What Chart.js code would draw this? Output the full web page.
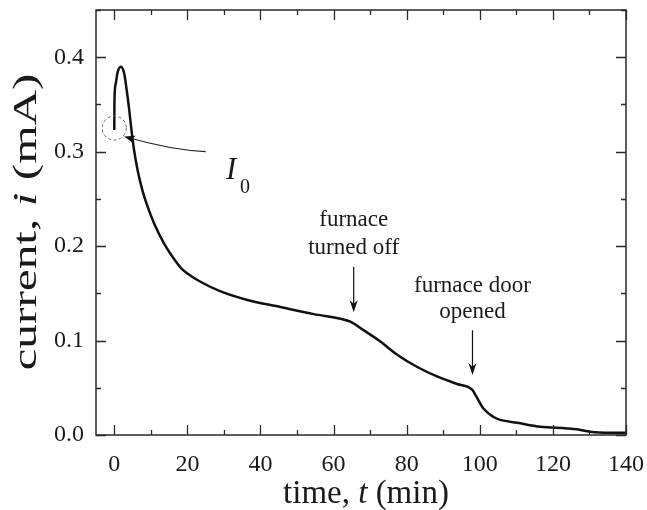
<!DOCTYPE html>
<html>
<head>
<meta charset="utf-8">
<script src="https://cdn.jsdelivr.net/npm/chart.js@4/dist/chart.umd.min.js"></script>
<style>
  body { margin: 0; background: #fff; }
  canvas { display: block; }
</style>
</head>
<body>
<canvas id="myChart" width="647" height="510"></canvas>
<script>
// time in minutes and current in mA
const times = [0, 0.05, 0.4, 0.9, 1.8, 2.7, 3.4, 4.1, 4.7, 5.4, 6.4, 7.7, 9.1, 10.9, 13.6, 16.4, 18.2, 20,
    23.7, 29.1, 36.4, 45.5, 54.6, 62, 64.6, 68.2, 72.8, 77.4, 82.9, 88.3, 93.8, 97.9,
    99.3, 101, 103.8, 105.6, 110.2, 116.6, 123.9, 126.6, 130.2, 135.7, 140];
const currents = [0.323, 0.354, 0.372, 0.384, 0.390, 0.383, 0.365, 0.344, 0.323, 0.302, 0.280, 0.259, 0.242, 0.224, 0.203, 0.186, 0.177, 0.171,
    0.162, 0.152, 0.143, 0.1355, 0.128, 0.123, 0.120, 0.111, 0.099, 0.085, 0.072, 0.062, 0.054, 0.048,
    0.039, 0.028, 0.019, 0.016, 0.013, 0.0088, 0.007, 0.006, 0.0035, 0.0025, 0.0025];

const xTickValues = [0, 20, 40, 60, 80, 100, 120, 140];
const yTickValues = [0, 0.1, 0.2, 0.3, 0.4];
const xMinorStep = 10;
const yMinorStep = 0.05;

const serif = "'Liberation Serif', 'DejaVu Serif', serif";
const ink = '#1a1a1a';

// text with italic pieces: [text, italic]
function drawPieces(ctx, pieces, size, cx, y) {
    let widths = pieces.map(function(p) {
        ctx.font = (p[1] ? 'italic ' : '') + size + 'px ' + serif;
        return ctx.measureText(p[0]).width;
    });
    let total = widths.reduce((a, b) => a + b, 0);
    let x = cx - total / 2;
    pieces.forEach(function(p, k) {
        ctx.font = (p[1] ? 'italic ' : '') + size + 'px ' + serif;
        ctx.fillText(p[0], x, y);
        x += widths[k];
    });
}

function arrowHead(ctx, x, y, dx, dy, len, half) {
    const l = Math.sqrt(dx * dx + dy * dy);
    const ux = dx / l, uy = dy / l;
    ctx.beginPath();
    ctx.moveTo(x, y);
    ctx.lineTo(x - ux * len - uy * half, y - uy * len + ux * half);
    ctx.lineTo(x - ux * len * 0.7, y - uy * len * 0.7);
    ctx.lineTo(x - ux * len + uy * half, y - uy * len - ux * half);
    ctx.closePath();
    ctx.fill();
}

const framePlugin = {
    id: 'frame',
    afterDraw: function(chart) {
        const ctx = chart.ctx;
        const a = chart.chartArea;
        const xs = chart.scales.x, ys = chart.scales.y;
        ctx.save();
        ctx.strokeStyle = '#2a2a2a';
        ctx.fillStyle = ink;
        ctx.lineWidth = 1.5;
        ctx.strokeRect(a.left, a.top, a.right - a.left, a.bottom - a.top);

        // inward ticks on all four sides
        ctx.lineWidth = 1.3;
        ctx.beginPath();
        for (let v = 0; v <= xs.max + 1e-9; v += xMinorStep) {
            const px = Math.round(xs.getPixelForValue(v)) + 0.5;
            const len = xTickValues.indexOf(v) >= 0 ? 10 : 5;
            ctx.moveTo(px, a.bottom); ctx.lineTo(px, a.bottom - len);
            ctx.moveTo(px, a.top); ctx.lineTo(px, a.top + len);
        }
        for (let k = 0; k * yMinorStep <= ys.max + 1e-9; k++) {
            const v = k * yMinorStep;
            const py = Math.round(ys.getPixelForValue(v)) + 0.5;
            const len = k % 2 === 0 ? 10 : 5;
            ctx.moveTo(a.left, py); ctx.lineTo(a.left + len, py);
            ctx.moveTo(a.right, py); ctx.lineTo(a.right - len, py);
        }
        ctx.stroke();

        // axis titles
        ctx.textAlign = 'left';
        ctx.textBaseline = 'alphabetic';
        drawPieces(ctx, [['time, ', false], ['t', true], [' (min)', false]], 33, (a.left + a.right) / 2 + 5, 503);
        ctx.save();
        ctx.translate(36, 222);
        ctx.rotate(-Math.PI / 2);
        ctx.scale(1.45, 1);
        drawPieces(ctx, [['current, ', false], ['i', true], [' (mA)', false]], 34, 0, 0);
        ctx.restore();

        // I0 marker: dashed circle and curved pointer
        ctx.strokeStyle = '#666';
        ctx.lineWidth = 1;
        ctx.setLineDash([3, 2.5]);
        ctx.beginPath();
        ctx.arc(xs.getPixelForValue(0), ys.getPixelForValue(0.325), 12, 0, Math.PI * 2);
        ctx.stroke();
        ctx.setLineDash([]);
        const p0x = xs.getPixelForValue(25), p0y = ys.getPixelForValue(0.300);
        const cx = xs.getPixelForValue(15.2), cy = ys.getPixelForValue(0.302);
        const p2x = xs.getPixelForValue(2.7), p2y = ys.getPixelForValue(0.316);
        ctx.strokeStyle = '#222';
        ctx.lineWidth = 1.1;
        ctx.beginPath();
        ctx.moveTo(p0x, p0y);
        ctx.quadraticCurveTo(cx, cy, p2x + 4, p2y + 1);
        ctx.stroke();
        ctx.fillStyle = '#111';
        arrowHead(ctx, p2x, p2y, p2x - cx, p2y - cy, 11, 4);

        ctx.fillStyle = ink;
        ctx.font = 'italic 31px ' + serif;
        ctx.fillText('I', 226, 179);
        ctx.font = '20px ' + serif;
        ctx.fillText('0', 240, 193);

        // furnace notes
        ctx.textAlign = 'center';
        ctx.font = '23px ' + serif;
        const fx = xs.getPixelForValue(65.5);
        ctx.fillText('furnace', fx, 226);
        ctx.fillText('turned off', fx, 254);
        const dx = xs.getPixelForValue(98);
        ctx.fillText('furnace door', dx, 292);
        ctx.fillText('opened', dx, 318);

        ctx.strokeStyle = '#111';
        ctx.lineWidth = 1.2;
        ctx.beginPath();
        ctx.moveTo(fx, ys.getPixelForValue(0.178)); ctx.lineTo(fx, ys.getPixelForValue(0.130) - 4);
        ctx.moveTo(dx, ys.getPixelForValue(0.111)); ctx.lineTo(dx, ys.getPixelForValue(0.0635) - 4);
        ctx.stroke();
        ctx.fillStyle = '#111';
        arrowHead(ctx, fx, ys.getPixelForValue(0.130), 0, 1, 12, 4);
        arrowHead(ctx, dx, ys.getPixelForValue(0.0635), 0, 1, 12, 4);
        ctx.restore();
    }
};

const ctx = document.getElementById('myChart').getContext('2d');
const myChart = new Chart(ctx, {
    type: 'line',
    data: {
        datasets: [{
            label: 'current',
            data: times.map(function(t, k) { return { x: t, y: currents[k] }; }),
            borderColor: '#111',
            borderWidth: 2.5,
            pointRadius: 0,
            fill: false,
            cubicInterpolationMode: 'monotone'
        }]
    },
    options: {
        responsive: false,
        animation: false,
        layout: { padding: { top: 10, right: 21, left: 0, bottom: 0 } },
        plugins: {
            legend: { display: false },
            tooltip: { enabled: false }
        },
        scales: {
            x: {
                type: 'linear',
                min: -5,
                max: 140,
                afterBuildTicks: function(s) { s.ticks = xTickValues.map(v => ({ value: v })); },
                afterFit: function(s) { s.height = 75; s.paddingLeft = 0; s.paddingRight = 0; },
                grid: { display: false, drawTicks: false },
                border: { display: false },
                ticks: {
                    font: { family: serif, size: 24 },
                    color: ink,
                    padding: 15,
                    maxRotation: 0,
                    autoSkip: false
                }
            },
            y: {
                type: 'linear',
                min: 0,
                max: 0.45,
                afterBuildTicks: function(s) { s.ticks = yTickValues.map(v => ({ value: v })); },
                afterFit: function(s) { s.width = 96; s.paddingTop = 0; s.paddingBottom = 0; },
                grid: { display: false, drawTicks: false },
                border: { display: false },
                ticks: {
                    font: { family: serif, size: 24 },
                    color: ink,
                    padding: 12,
                    autoSkip: false,
                    callback: function(v) { return v.toFixed(1); }
                }
            }
        }
    },
    plugins: [framePlugin]
});
</script>
</body>
</html>
